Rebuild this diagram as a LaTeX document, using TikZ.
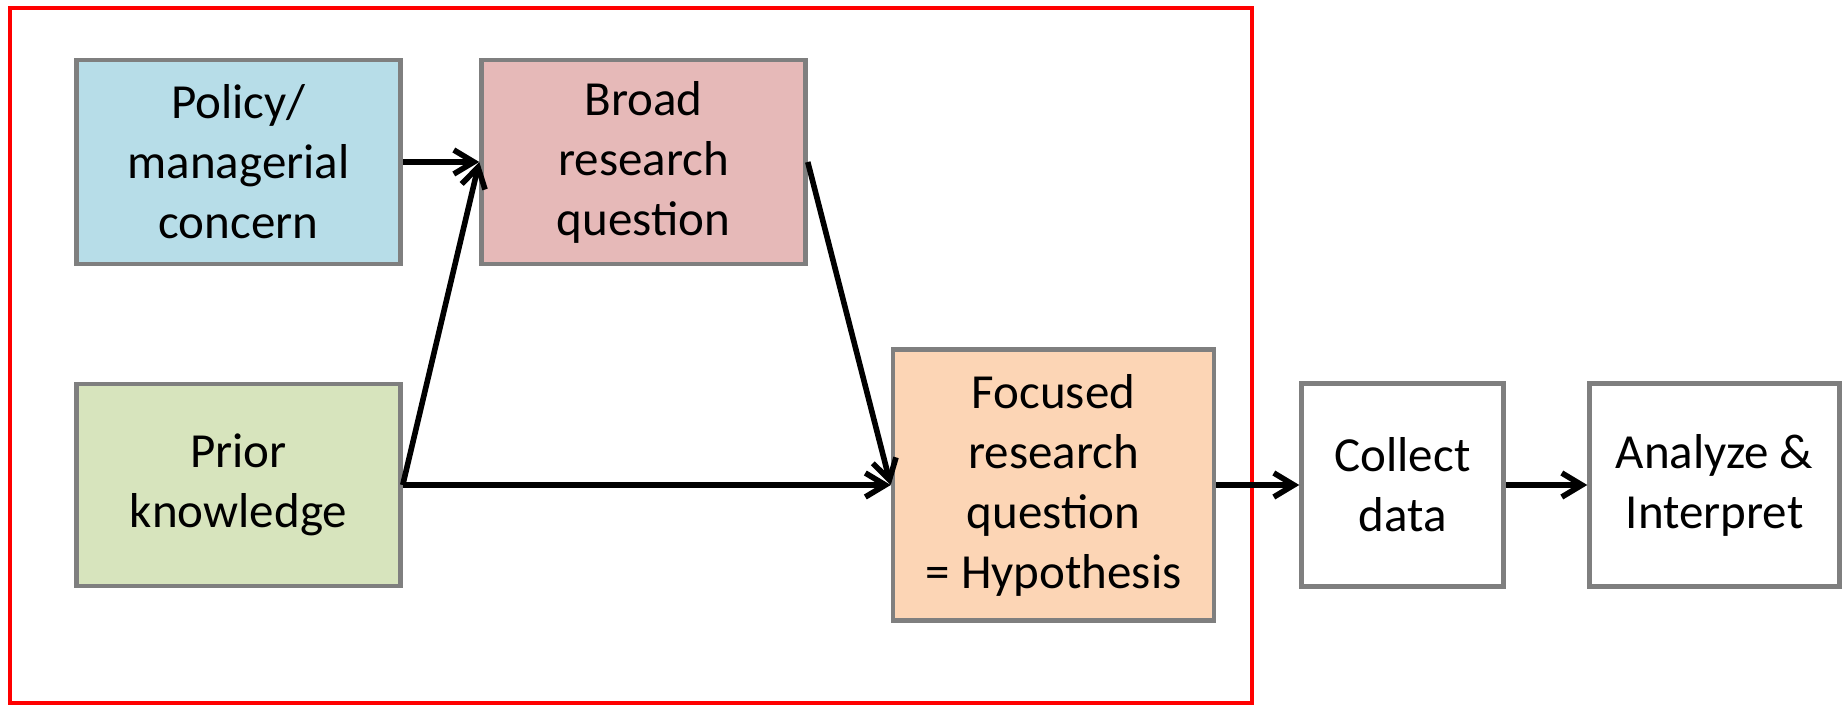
\documentclass[tikz,border=0pt]{standalone}
\usepackage{fontspec}
\setmainfont{Carlito}
\usepackage{xcolor}
\usepackage{tikz}
\usetikzlibrary{arrows.meta}
\definecolor{bleu}{HTML}{B7DDE8}
\definecolor{rose}{HTML}{E6B9B8}
\definecolor{vert}{HTML}{D7E4BD}
\definecolor{orange}{HTML}{FCD5B5}
\definecolor{gris}{HTML}{7F7F7F}
\begin{document}
\begin{tikzpicture}[x=0.5pt,y=-0.5pt]
% Styles
\tikzstyle{fleche}=[-{Straight Barb[length=10pt,width=12pt,line width=2.8pt]},line width=2.8pt,black]
\tikzstyle{boite}=[draw=gris,line width=2.25pt,rectangle,align=center,inner sep=0pt,font=\fontsize{24.5}{30}\selectfont,minimum width=162pt,minimum height=102pt]
\tikzstyle{cadre}=[draw=red,line width=2pt]
% Dimensions
\def\ColA{238.5}
\def\ColB{643.5}
\def\NiveauA{162}
\def\NiveauB{485}
\useasboundingbox (0,0) rectangle (1843,705);
% Cadre
\draw[cadre] (10,8) rectangle (1252,703);
% Noeuds
\node[boite,fill=bleu] (Pol) at (\ColA,\NiveauA) {Policy/\\managerial\\concern};
\node[boite,fill=rose] (Brd) at (\ColB,\NiveauA) {Broad\\research\\question};
\node[boite,fill=vert,minimum height=101pt] (Pri) at (\ColA,\NiveauB) {Prior\\knowledge};
\node[boite,fill=orange,minimum width=160.5pt,minimum height=135.5pt] (Foc) at (1053.5,\NiveauB) {Focused\\research\\question\\= Hypothesis};
\node[boite,fill=white,minimum width=101pt,minimum height=101.5pt] (Col) at (1402.5,\NiveauB) {Collect\\data};
\node[boite,fill=white,minimum width=125pt,minimum height=101.5pt] (Ana) at (1714.5,\NiveauB) {Analyze \&\\Interpret};
% Arcs
\draw[fleche] (Pol.east)--(Brd.west);
\draw[fleche] (Pri.east)--(Brd.west);
\draw[fleche] (Pri.east)--(Foc.west);
\draw[fleche] (Brd.east)--(Foc.west);
\draw[fleche] (Foc.east)--(Col.west);
\draw[fleche] (Col.east)--(Ana.west);
\end{tikzpicture}
\end{document}
